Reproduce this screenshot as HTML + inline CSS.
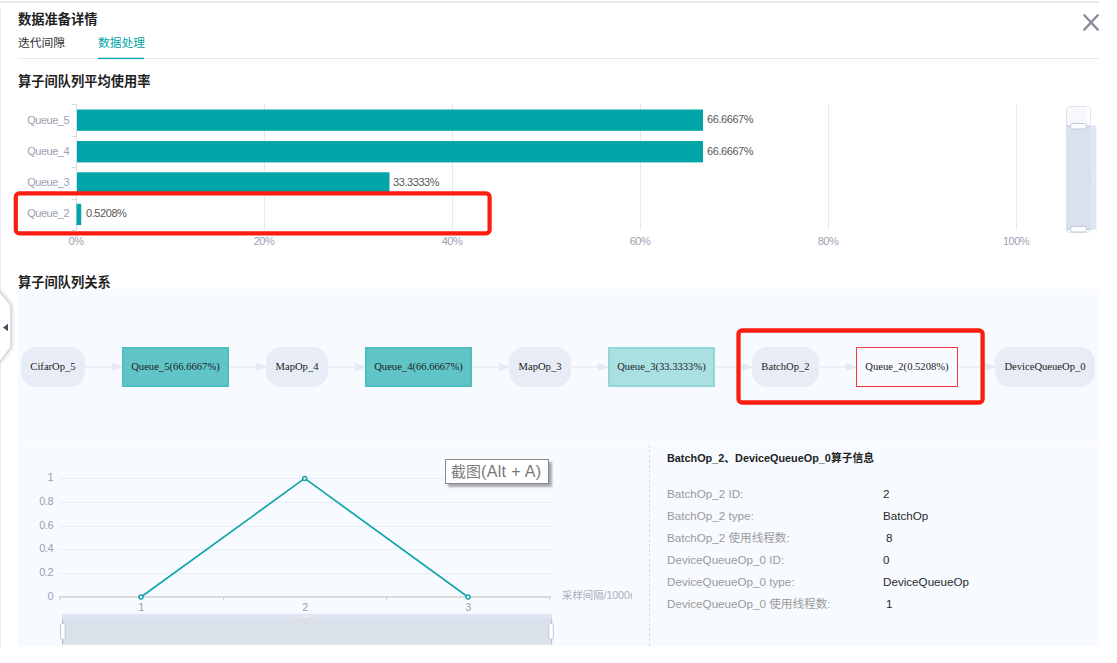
<!DOCTYPE html>
<html lang="zh">
<head>
<meta charset="utf-8">
<title>数据准备详情</title>
<style>
html,body{margin:0;padding:0;}
body{width:1117px;height:663px;position:relative;overflow:hidden;background:#fff;font-family:"Liberation Sans","Noto Sans CJK SC",sans-serif;color:#333;}
.abs{position:absolute;}
.t{position:absolute;white-space:nowrap;line-height:1;}
.h{font-weight:bold;font-size:13px;color:#1f1f1f;}
.tab{font-size:12px;color:#303133;}
.ax{font-size:11px;color:#9ba1b2;letter-spacing:-0.5px;}
.val{font-size:11px;color:#585858;letter-spacing:-0.42px;}
.node{position:absolute;top:347px;height:40px;box-sizing:border-box;font-family:"Liberation Serif",serif;font-size:10.6px;color:#1c1c1c;display:flex;padding-bottom:1px;align-items:center;justify-content:center;white-space:nowrap;}
.op{background:#e8ecf6;border-radius:15px;}
.q1{background:#61c5c8;border:2px solid #4fbec1;}
.q2{background:#abe0e3;border:2px solid #94d7da;}
.q3{border:1px solid #f3383e;}
.lab{font-size:11.65px;color:#9a9a9a;}
.v{font-size:11.65px;color:#2a2a2a;}
</style>
</head>
<body>
<!-- frame borders -->
<div class="abs" style="left:0;top:1px;width:1099px;height:2px;background:#e4e7ee;"></div>
<div class="abs" style="left:0;top:9px;width:1px;height:638px;background:#e9ecf3;"></div>

<!-- header -->
<div class="t h" style="left:18px;top:13px;font-size:13.26px;">数据准备详情</div>
<div class="t tab" style="left:18px;top:37px;font-size:11.78px;">迭代间隙</div>
<div class="t tab" style="left:98px;top:37px;color:#00a5a7;font-size:11.78px;">数据处理</div>
<div class="abs" style="left:18px;top:58px;width:1081px;height:1px;background:#e6e9f0;"></div>
<svg class="abs" style="left:98px;top:56px;" width="46" height="5" viewBox="0 0 46 5"><rect x="0" y="1.750" width="46" height="1.350" fill="#00a5a7"/></svg>
<svg class="abs" style="left:1080px;top:11px;" width="24" height="24" viewBox="1080 11 24 24"><path d="M1084.300 15.300 L1097.800 29.600 M1097.800 15.300 L1084.300 29.600" stroke="#888d9c" stroke-width="2.300" stroke-linecap="round" fill="none"/></svg>

<!-- section 1 -->
<div class="t h" style="left:18px;top:75px;font-size:13.26px;">算子间队列平均使用率</div>

<svg class="abs" style="left:0;top:0;" width="1117" height="663" viewBox="0 0 1117 663">
  <!-- grid -->
  <g stroke="#e6e9f4" stroke-width="1" shape-rendering="crispEdges">
    <line x1="264.5" y1="104" x2="264.5" y2="230"/>
    <line x1="452.5" y1="104" x2="452.5" y2="230"/>
    <line x1="640.5" y1="104" x2="640.5" y2="230"/>
    <line x1="828.5" y1="104" x2="828.5" y2="230"/>
    <line x1="1016.5" y1="104" x2="1016.5" y2="230"/>
  </g>
  <g stroke="#d9dce6" stroke-width="1" shape-rendering="crispEdges">
    <line x1="76.500" y1="104" x2="76.500" y2="230"/>
    <line x1="72" y1="104.500" x2="76" y2="104.500"/>
    <line x1="72" y1="136.500" x2="76" y2="136.500"/>
    <line x1="72" y1="167.500" x2="76" y2="167.500"/>
    <line x1="72" y1="199.500" x2="76" y2="199.500"/>
    <line x1="72" y1="230.500" x2="76" y2="230.500"/>
  </g>
  <!-- bars -->
  <g fill="#00a5a7">
    <rect x="77" y="109.500" width="626" height="21.300"/>
    <rect x="77" y="141" width="626" height="21.400"/>
    <rect x="77" y="172.300" width="312.500" height="21.200"/>
    <rect x="76.500" y="203.800" width="4.700" height="21.300"/>
  </g>
  <!-- vertical datazoom -->
  <rect x="1066.500" y="106.500" width="24" height="126" rx="3" fill="#fff" stroke="#e4e5ea"/>
  <rect x="1067" y="107" width="19.500" height="19" fill="#f6f8fd"/>
  <rect x="1066" y="126" width="25" height="103.500" fill="#dbe1ec"/>
  <rect x="1091" y="125.500" width="5.500" height="104" fill="#dfe5f3"/>
  <line x1="1065.500" y1="126" x2="1091" y2="126" stroke="#c2cbe0" stroke-width="1"/>
  <line x1="1065.500" y1="229.400" x2="1091" y2="229.400" stroke="#c2cbe0" stroke-width="1"/>
  <rect x="1070.500" y="123.500" width="16" height="5.500" rx="2.400" fill="#fff" stroke="#bcc6dd"/>
  <rect x="1070.500" y="226.500" width="16" height="5.500" rx="2.400" fill="#fff" stroke="#bcc6dd"/>
  <g fill="#f7f9fd"><rect x="1093" y="175" width="1.500" height="1.200"/><rect x="1093" y="177.200" width="1.500" height="1.200"/><rect x="1093" y="179.400" width="1.500" height="1.200"/></g>
  <!-- red highlight 1 -->
  <rect x="15.800" y="193.400" width="473.800" height="40" rx="3.500" fill="none" stroke="#fc1d11" stroke-width="4.200"/>
</svg>

<div class="t ax" style="left:0;width:69px;text-align:right;top:115px;">Queue_5</div>
<div class="t ax" style="left:0;width:69px;text-align:right;top:146px;">Queue_4</div>
<div class="t ax" style="left:0;width:69px;text-align:right;top:177px;">Queue_3</div>
<div class="t ax" style="left:0;width:69px;text-align:right;top:208px;">Queue_2</div>
<div class="t val" style="left:707px;top:114px;">66.6667%</div>
<div class="t val" style="left:707px;top:146px;">66.6667%</div>
<div class="t val" style="left:393px;top:177px;">33.3333%</div>
<div class="t val" style="left:86px;top:208px;">0.5208%</div>
<div class="t ax" style="left:46px;width:60px;text-align:center;top:236px;">0%</div>
<div class="t ax" style="left:234px;width:60px;text-align:center;top:236px;">20%</div>
<div class="t ax" style="left:422px;width:60px;text-align:center;top:236px;">40%</div>
<div class="t ax" style="left:610px;width:60px;text-align:center;top:236px;">60%</div>
<div class="t ax" style="left:798px;width:60px;text-align:center;top:236px;">80%</div>
<div class="t ax" style="left:986px;width:60px;text-align:center;top:236px;">100%</div>

<!-- section 2 -->
<div class="t h" style="left:18px;top:276px;font-size:13.26px;">算子间队列关系</div>
<div class="abs" style="left:18px;top:289px;width:1081px;height:155px;background:#f7faff;"></div>
<div class="abs" style="left:18px;top:445px;width:1081px;height:201px;background:#f7faff;"></div>

<!-- collapse tab -->
<svg class="abs" style="left:0;top:280px;" width="30" height="90" viewBox="0 280 30 90">
  <defs><filter id="sh" x="-100%" y="-30%" width="400%" height="160%"><feGaussianBlur stdDeviation="2.600"/></filter></defs>
  <path d="M-4 291 L-4 363 L0 360.500 L9.300 348.500 Q10.300 347 10.300 345 L10.300 307.500 Q10.300 305.500 9.300 304 L0 293 Z" fill="#6d7386" opacity="0.750" filter="url(#sh)"/>
  <path d="M-4 291 L-4 363 L0 360.500 L9.300 348.500 Q10.300 347 10.300 345 L10.300 307.500 Q10.300 305.500 9.300 304 L0 293 Z" fill="#fff"/>
  <path d="M3 327.500 L8 323.700 L8 331.300 Z" fill="#454d62"/>
</svg>

<!-- flow arrows -->
<svg class="abs" style="left:0;top:340px;" width="1117" height="54" viewBox="0 0 1117 54">
  <g stroke="#e8ebf6" stroke-width="1.300" fill="#e5e9f4">
    <line x1="85" y1="27" x2="112" y2="27"/><path d="M111.7 22.900 L123.8 27 L111.7 31.100 Z" stroke="none"/>
    <line x1="229" y1="27" x2="256" y2="27"/><path d="M255.7 22.900 L267.8 27 L255.7 31.100 Z" stroke="none"/>
    <line x1="328" y1="27" x2="355" y2="27"/><path d="M354.7 22.900 L366.8 27 L354.7 31.100 Z" stroke="none"/>
    <line x1="472" y1="27" x2="499" y2="27"/><path d="M498.7 22.900 L510.8 27 L498.7 31.100 Z" stroke="none"/>
    <line x1="571" y1="27" x2="598" y2="27"/><path d="M597.7 22.900 L609.8 27 L597.7 31.100 Z" stroke="none"/>
    <line x1="715" y1="27" x2="742" y2="27"/><path d="M741.7 22.900 L753.8 27 L741.7 31.100 Z" stroke="none"/>
    <line x1="819" y1="27" x2="846" y2="27"/><path d="M845.7 22.900 L857.8 27 L845.7 31.100 Z" stroke="none"/>
    <line x1="958" y1="27" x2="985" y2="27"/><path d="M984.7 22.900 L996.8 27 L984.7 31.100 Z" stroke="none"/>
  </g>
</svg>

<!-- nodes -->
<div class="node op" style="left:21px;width:64px;">CifarOp_5</div>
<div class="node q1" style="left:122px;width:107px;">Queue_5(66.6667%)</div>
<div class="node op" style="left:266px;width:62px;">MapOp_4</div>
<div class="node q1" style="left:365px;width:107px;">Queue_4(66.6667%)</div>
<div class="node op" style="left:509px;width:62px;">MapOp_3</div>
<div class="node q2" style="left:608px;width:107px;">Queue_3(33.3333%)</div>
<div class="node op" style="left:752px;width:67px;">BatchOp_2</div>
<div class="node q3" style="left:856px;width:102px;">Queue_2(0.5208%)</div>
<div class="node op" style="left:995px;width:100px;">DeviceQueueOp_0</div>

<!-- red highlight 2 -->
<svg class="abs" style="left:730px;top:322px;" width="262" height="90" viewBox="730 322 262 90"><rect x="738.500" y="330.500" width="244.100" height="72" rx="3.500" fill="none" stroke="#fc1d11" stroke-width="4.300"/></svg>

<!-- line chart -->
<svg class="abs" style="left:0;top:445px;" width="660" height="201" viewBox="0 445 660 201">
  <g stroke="#e9ecf6" stroke-width="1" shape-rendering="crispEdges">
    <line x1="60" y1="478.500" x2="550" y2="478.500"/>
    <line x1="60" y1="502.500" x2="550" y2="502.500"/>
    <line x1="60" y1="526.500" x2="550" y2="526.500"/>
    <line x1="60" y1="549.500" x2="550" y2="549.500"/>
    <line x1="60" y1="573.500" x2="550" y2="573.500"/>
  </g>
  <g stroke="#cfcfd2" stroke-width="1" shape-rendering="crispEdges">
    <rect x="59" y="596" width="492" height="2" stroke="none" fill="#dbdbdc"/>
    <line x1="59.500" y1="597" x2="59.500" y2="600"/>
    <line x1="223.500" y1="597" x2="223.500" y2="600"/>
    <line x1="386.500" y1="597" x2="386.500" y2="600"/>
    <line x1="549.500" y1="597" x2="549.500" y2="600"/>
  </g>
  <polyline points="141,597 304.700,478.400 468,597" fill="none" stroke="#12a5a7" stroke-width="1.700" stroke-linejoin="round"/>
  <g fill="#fff" stroke="#12a5a7" stroke-width="1.500">
    <circle cx="141" cy="597" r="2"/><circle cx="304.700" cy="478.400" r="2"/><circle cx="468" cy="597" r="2"/>
  </g>
  <!-- datazoom -->
  <rect x="62" y="613.900" width="490" height="5.100" fill="#dfe4f2"/>
  <rect x="62" y="619" width="490" height="25.200" fill="#dbe1eb"/>
  <rect x="62" y="618.700" width="490" height="0.800" fill="#dcdde2"/>
  <rect x="62" y="643.600" width="490" height="0.800" fill="#dcdde2"/>
  <line x1="62.600" y1="619" x2="62.600" y2="644.500" stroke="#b5bfd7" stroke-width="1.200"/>
  <line x1="551.600" y1="619" x2="551.600" y2="644.500" stroke="#b5bfd7" stroke-width="1.200"/>
  <rect x="60.500" y="623.600" width="4.700" height="15.600" rx="2" fill="#fff" stroke="#bcc5dc"/>
  <rect x="548.700" y="623.600" width="4.700" height="15.600" rx="2" fill="#fff" stroke="#bcc5dc"/>
  <g fill="#f7f9fd"><rect x="303.500" y="615.800" width="1.200" height="1.400"/><rect x="305.600" y="615.800" width="1.200" height="1.400"/><rect x="307.700" y="615.800" width="1.200" height="1.400"/></g>
</svg>
<div class="t ax" style="left:0;width:53px;text-align:right;top:472px;">1</div>
<div class="t ax" style="left:0;width:53px;text-align:right;top:496px;">0.8</div>
<div class="t ax" style="left:0;width:53px;text-align:right;top:520px;">0.6</div>
<div class="t ax" style="left:0;width:53px;text-align:right;top:543px;">0.4</div>
<div class="t ax" style="left:0;width:53px;text-align:right;top:567px;">0.2</div>
<div class="t ax" style="left:0;width:53px;text-align:right;top:591px;">0</div>
<div class="t ax" style="left:121px;width:40px;text-align:center;top:602px;">1</div>
<div class="t ax" style="left:285px;width:40px;text-align:center;top:602px;">2</div>
<div class="t ax" style="left:448px;width:40px;text-align:center;top:602px;">3</div>
<div class="t ax" style="left:562px;top:590px;font-size:10.8px;color:#acb0ba;letter-spacing:-0.15px;"><span style="font-size:10.4px;color:#a9adb8;letter-spacing:0;">采样间隔</span>/1000ı</div>

<!-- tooltip -->
<div class="abs" style="left:445px;top:459px;width:102px;height:23px;background:#fff;border:1px solid #8a8a8a;box-shadow:3px 3px 2px rgba(0,0,0,0.32);font-size:16px;color:#787878;line-height:23px;text-align:left;padding-left:0;text-indent:5px;white-space:nowrap;overflow:hidden;"><span style="font-size:15px;color:#7d7d7d;">截图</span><span style="letter-spacing:0.35px;">(Alt + A)</span></div>

<!-- info panel -->
<div class="abs" style="left:649px;top:445px;width:0;height:201px;border-left:1px dashed #d8dbe2;"></div>
<div class="t" style="left:667px;top:453px;font-size:10.85px;font-weight:bold;color:#222;">BatchOp_2<span style="font-size:10.8px;">、</span>DeviceQueueOp_0<span style="font-size:10.8px;">算子信息</span></div>
<div class="t lab" style="left:667px;top:488px;">BatchOp_2 ID:</div><div class="t v" style="left:883px;top:488px;">2</div>
<div class="t lab" style="left:667px;top:510px;">BatchOp_2 type:</div><div class="t v" style="left:883px;top:510px;">BatchOp</div>
<div class="t lab" style="left:667px;top:532px;">BatchOp_2 <span style="font-size:11.6px;">使用线程数</span>:</div><div class="t v" style="left:886px;top:532px;">8</div>
<div class="t lab" style="left:667px;top:554px;">DeviceQueueOp_0 ID:</div><div class="t v" style="left:883px;top:554px;">0</div>
<div class="t lab" style="left:667px;top:576px;">DeviceQueueOp_0 type:</div><div class="t v" style="left:883px;top:576px;">DeviceQueueOp</div>
<div class="t lab" style="left:667px;top:598px;">DeviceQueueOp_0 <span style="font-size:11.6px;">使用线程数</span>:</div><div class="t v" style="left:886px;top:598px;">1</div>
</body>
</html>
